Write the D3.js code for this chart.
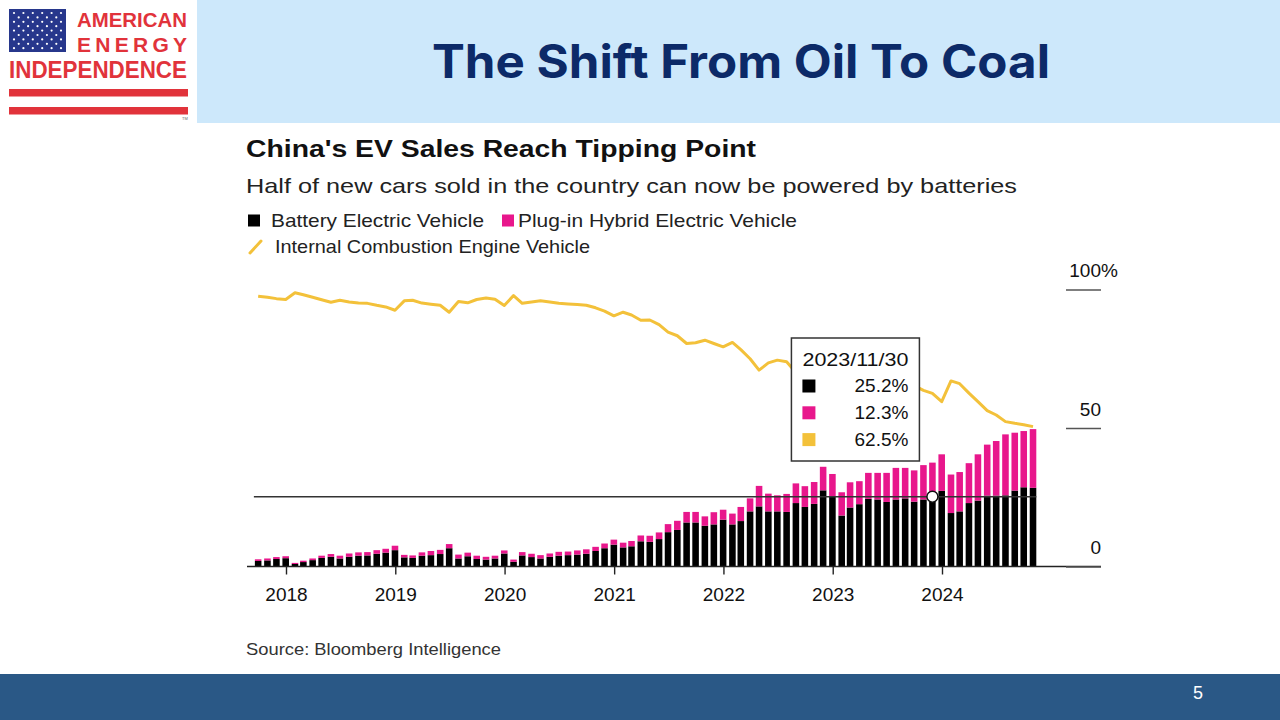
<!DOCTYPE html>
<html>
<head>
<meta charset="utf-8">
<script src="https://cdn.jsdelivr.net/npm/d3@7"></script>
<style>
  body { margin: 0; background: #fff; }
  svg { display: block; font-family: "Liberation Sans", Arial, sans-serif; }
</style>
</head>
<body>
<svg id="chart" width="1280" height="720"></svg>
<script>
// monthly shares of new car sales in China, Sep 2017 - Oct 2024 (%)
const months = d3.timeMonth.range(new Date(2017, 8, 1), new Date(2024, 10, 1));

const bev = [
  2.0, 2.2, 2.7, 3.0,
  0.9, 1.6, 2.3, 3.1, 3.5, 2.9, 3.5, 3.9, 4.0, 4.6, 5.0, 5.9,
  3.3, 3.1, 3.9, 4.1, 4.5, 6.6, 2.9, 3.7, 2.7, 2.5, 2.9, 4.7,
  1.7, 4.0, 3.4, 2.9, 3.5, 3.9, 4.1, 4.3, 4.6, 5.6, 6.6, 7.9,
  6.9, 7.3, 9.1, 8.9, 9.9, 12.4, 13.2, 15.9, 15.9, 14.7, 15.2, 16.9,
  15.2, 16.4, 19.9, 21.7, 19.9, 19.9, 19.7, 22.9, 21.5, 22.6, 27.5, 25.4,
  18.4, 21.3, 22.5, 24.4, 24.2, 23.3, 24.2, 24.6, 23.4, 24.2, 25.2, 27.3,
  19.3, 19.9, 22.9, 23.8, 25.6, 25.6, 25.7, 27.4, 28.6, 28.4
];

const phev = [
  0.6, 0.7, 0.7, 0.7,
  0.4, 0.5, 0.6, 0.8, 1.0, 1.0, 1.2, 1.2, 1.2, 1.3, 1.4, 1.6,
  0.9, 0.9, 1.2, 1.5, 1.5, 1.5, 1.4, 1.3, 1.2, 1.0, 1.0, 1.1,
  0.8, 1.2, 1.2, 1.2, 1.2, 1.4, 1.3, 1.5, 1.6, 1.5, 1.7, 1.8,
  1.7, 1.9, 2.1, 2.2, 2.4, 2.9, 3.3, 3.8, 3.8, 3.4, 4.4, 3.6,
  3.9, 5.1, 4.7, 7.4, 6.4, 5.8, 6.5, 7.1, 7.5, 7.9, 8.5, 8.0,
  8.4, 9.1, 8.3, 9.4, 9.6, 10.5, 11.4, 11.0, 11.3, 12.4, 12.3, 13.2,
  13.9, 14.2, 14.4, 16.7, 18.4, 19.7, 22.0, 20.9, 20.3, 21.2
];

const ice = [
  97.6, 97.2, 96.7, 96.4,
  98.8, 98.1, 97.2, 96.3, 95.4, 96.1, 95.5, 95.1, 95.0, 94.3, 93.7, 92.5,
  95.9, 96.1, 95.1, 94.7, 94.3, 91.8, 95.7, 95.2, 96.4, 96.9, 96.5, 94.2,
  97.8, 95.0, 95.5, 95.9, 95.5, 95.0, 94.8, 94.6, 94.3, 93.4, 92.2, 90.5,
  91.8, 90.8, 88.9, 89.0, 87.3, 84.6, 83.3, 80.5, 80.8, 81.7, 80.5, 79.3,
  80.9, 78.3, 75.0, 70.9, 73.5, 74.5, 73.9, 70.0, 71.0, 69.5, 64.0, 66.6,
  73.2, 69.6, 69.2, 66.2, 66.2, 66.2, 64.4, 64.4, 65.3, 63.6, 62.5, 59.5,
  67.0, 66.0, 62.6, 59.5, 56.3, 54.7, 52.3, 51.7, 51.2, 50.5
];

const yearTicks = [2018, 2019, 2020, 2021, 2022, 2023, 2024];
const yTicks = [0, 50, 100];
const hoverMonth = "2023-11";

const colorMap = { bev: "#000000", phev: "#e8178c", ice: "#f3c13a" };

const svg = d3.select("#chart");

// ---- slide header ----
svg.append("rect")
  .attr("x", 197).attr("y", 0).attr("width", 1083).attr("height", 123)
  .attr("fill", "#cde8fb");

svg.append("text")
  .attr("x", 432).attr("y", 78)
  .attr("font-family", "Inter, 'Liberation Sans', sans-serif")
  .attr("font-weight", 700)
  .attr("font-size", 46)
  .attr("fill", "#0c2a68")
  .attr("textLength", 618)
  .attr("lengthAdjust", "spacingAndGlyphs")
  .text("The Shift From Oil To Coal");

// logo
const logo = svg.append("g");
const red = "#e1333b";
logo.append("rect").attr("x", 9).attr("y", 9).attr("width", 57).attr("height", 43).attr("fill", "#27378c");
for (let r = 0; r < 9; r++) {
  const n = r % 2 === 0 ? 6 : 5;
  for (let c = 0; c < n; c++) {
    logo.append("circle")
      .attr("cx", 9 + 5 + c * 9.4 + (r % 2 ? 4.7 : 0))
      .attr("cy", 9 + 4 + r * 4.4)
      .attr("r", 1.1)
      .attr("fill", "#fff");
  }
}
logo.append("text").attr("x", 77).attr("y", 27).attr("font-size", 21).attr("font-weight", 700)
  .attr("fill", red).attr("textLength", 110).attr("lengthAdjust", "spacingAndGlyphs").text("AMERICAN");
logo.append("text").attr("x", 77).attr("y", 52).attr("font-size", 21).attr("font-weight", 700)
  .attr("fill", red).attr("textLength", 110).attr("lengthAdjust", "spacing").text("ENERGY");
logo.append("text").attr("x", 9).attr("y", 77.5).attr("font-size", 23).attr("font-weight", 700)
  .attr("fill", red).attr("textLength", 178).attr("lengthAdjust", "spacingAndGlyphs").text("INDEPENDENCE");
logo.append("rect").attr("x", 9).attr("y", 89).attr("width", 179).attr("height", 7.5).attr("fill", red);
logo.append("rect").attr("x", 9).attr("y", 107).attr("width", 179).attr("height", 7.5).attr("fill", red);
logo.append("text").attr("x", 182).attr("y", 120).attr("font-size", 4).attr("fill", "#666").text("TM");

// ---- chart titles ----
svg.append("text")
  .attr("x", 246).attr("y", 157)
  .attr("font-size", 24.5).attr("font-weight", 700).attr("fill", "#111")
  .attr("textLength", 510).attr("lengthAdjust", "spacingAndGlyphs")
  .text("China's EV Sales Reach Tipping Point");

svg.append("text")
  .attr("x", 246).attr("y", 192.5)
  .attr("font-size", 21).attr("fill", "#222")
  .attr("textLength", 771).attr("lengthAdjust", "spacingAndGlyphs")
  .text("Half of new cars sold in the country can now be powered by batteries");

// legend
const legend = svg.append("g").attr("font-size", 18.5).attr("fill", "#222");
legend.append("rect").attr("x", 248).attr("y", 214.5).attr("width", 12).attr("height", 12).attr("fill", colorMap.bev);
legend.append("text").attr("x", 271).attr("y", 226.5)
  .attr("textLength", 213).attr("lengthAdjust", "spacingAndGlyphs").text("Battery Electric Vehicle");
legend.append("rect").attr("x", 502).attr("y", 214.5).attr("width", 12).attr("height", 12).attr("fill", colorMap.phev);
legend.append("text").attr("x", 518).attr("y", 226.5)
  .attr("textLength", 279).attr("lengthAdjust", "spacingAndGlyphs").text("Plug-in Hybrid Electric Vehicle");
legend.append("line").attr("x1", 250).attr("y1", 253).attr("x2", 261).attr("y2", 241)
  .attr("stroke", colorMap.ice).attr("stroke-width", 3).attr("stroke-linecap", "round");
legend.append("text").attr("x", 275).attr("y", 253)
  .attr("textLength", 315).attr("lengthAdjust", "spacingAndGlyphs").text("Internal Combustion Engine Vehicle");

// ---- scales ----
const monthEnd = (m) => d3.timeDay.offset(d3.timeMonth.offset(m, 1), -1);
const rows = months.map((m, i) => ({
  key: d3.timeFormat("%Y-%m")(m),
  date: monthEnd(m),
  bev: bev[i],
  phev: phev[i],
  ice: ice[i],
}));

const x = d3.scaleTime()
  .domain([new Date(2018, 0, 1), new Date(2024, 0, 1)])
  .range([286, 942]);
const y = d3.scaleLinear().domain([0, 100]).range([566.5, 289.5]);

const step = (x(rows[rows.length - 1].date) - x(rows[0].date)) / (rows.length - 1);
const bw = step * 0.72;

const series = d3.stack().keys(["bev", "phev"])(rows);

const plot = svg.append("g");

// stacked bars
plot.selectAll(".layer")
  .data(series)
  .join("g")
  .attr("class", "layer")
  .attr("fill", (d) => colorMap[d.key])
  .selectAll("rect")
  .data((d) => d)
  .join("rect")
  .attr("x", (d) => x(d.data.date) - bw / 2)
  .attr("y", (d) => y(d[1]))
  .attr("width", bw)
  .attr("height", (d) => y(d[0]) - y(d[1]));

// baseline
plot.append("line")
  .attr("x1", 247).attr("x2", 1101)
  .attr("y1", y(0)).attr("y2", y(0))
  .attr("stroke", "#222").attr("stroke-width", 1.4);

// x axis
const xAxis = plot.append("g")
  .attr("transform", `translate(0,${y(0)})`)
  .call(
    d3.axisBottom(x)
      .tickValues(yearTicks.map((yr) => new Date(yr, 0, 1)))
      .tickFormat(d3.timeFormat("%Y"))
      .tickSize(8)
      .tickPadding(13)
  );
xAxis.select(".domain").remove();
xAxis.selectAll(".tick line").attr("stroke", "#222").attr("stroke-width", 1.4);
xAxis.selectAll(".tick text")
  .attr("font-family", "'Liberation Sans', Arial, sans-serif")
  .attr("font-size", 19).attr("fill", "#111");

// right value axis
const yAxis = plot.append("g")
  .attr("transform", "translate(1101,0)")
  .call(d3.axisLeft(y).tickValues(yTicks).tickSize(35).tickFormat((d) => d));
yAxis.select(".domain").remove();
yAxis.selectAll(".tick line").attr("stroke", "#555").attr("stroke-width", 1.5);
yAxis.selectAll(".tick text")
  .attr("x", 0).attr("y", -13).attr("dy", 0)
  .attr("font-family", "'Liberation Sans', Arial, sans-serif")
  .attr("font-size", 19).attr("fill", "#111");
plot.append("text")
  .attr("x", 1101).attr("y", y(100) - 13)
  .attr("font-size", 19).attr("fill", "#111")
  .text("%");

// hover crosshair at selected month
const hover = rows.find((r) => r.key === hoverMonth);
plot.append("line")
  .attr("x1", x(rows[0].date) - bw / 2 - 1)
  .attr("x2", x(rows[rows.length - 1].date) + bw / 2)
  .attr("y1", y(hover.bev)).attr("y2", y(hover.bev))
  .attr("stroke", "#333").attr("stroke-width", 1.4);

// ICE line
plot.append("path")
  .datum(rows)
  .attr("fill", "none")
  .attr("stroke", colorMap.ice)
  .attr("stroke-width", 3)
  .attr("stroke-linejoin", "round")
  .attr("d", d3.line().x((d) => x(d.date)).y((d) => y(d.ice)));

plot.append("circle")
  .attr("cx", x(hover.date)).attr("cy", y(hover.bev)).attr("r", 5.5)
  .attr("fill", "#fff").attr("stroke", "#111").attr("stroke-width", 1.5);

// tooltip
const tipW = 128, tipH = 123;
const tipX = x(hover.date) - 13 - tipW;
const tipY = 338;
const tip = plot.append("g").attr("transform", `translate(${tipX},${tipY})`);
tip.append("rect")
  .attr("width", tipW).attr("height", tipH)
  .attr("fill", "#fff").attr("stroke", "#333").attr("stroke-width", 1.5);
tip.append("text")
  .attr("x", 11).attr("y", 28)
  .attr("font-size", 18.5).attr("fill", "#111")
  .attr("textLength", 106).attr("lengthAdjust", "spacingAndGlyphs")
  .text(d3.timeFormat("%Y/%m/%d")(hover.date));
["bev", "phev", "ice"].forEach((k, i) => {
  const base = 54 + i * 26.8;
  tip.append("rect")
    .attr("x", 11).attr("y", base - 12.5).attr("width", 13).attr("height", 13)
    .attr("fill", colorMap[k]);
  tip.append("text")
    .attr("x", 117).attr("y", base)
    .attr("text-anchor", "end")
    .attr("font-size", 19).attr("fill", "#111")
    .text(hover[k].toFixed(1) + "%");
});

// source
svg.append("text")
  .attr("x", 246).attr("y", 655)
  .attr("font-size", 16.5).attr("fill", "#333")
  .attr("textLength", 255).attr("lengthAdjust", "spacingAndGlyphs")
  .text("Source: Bloomberg Intelligence");

// ---- footer ----
svg.append("rect")
  .attr("x", 0).attr("y", 674).attr("width", 1280).attr("height", 46)
  .attr("fill", "#2a5886");
svg.append("text")
  .attr("x", 1198).attr("y", 699)
  .attr("text-anchor", "middle")
  .attr("font-size", 18).attr("fill", "#fff")
  .text("5");
</script>
</body>
</html>
